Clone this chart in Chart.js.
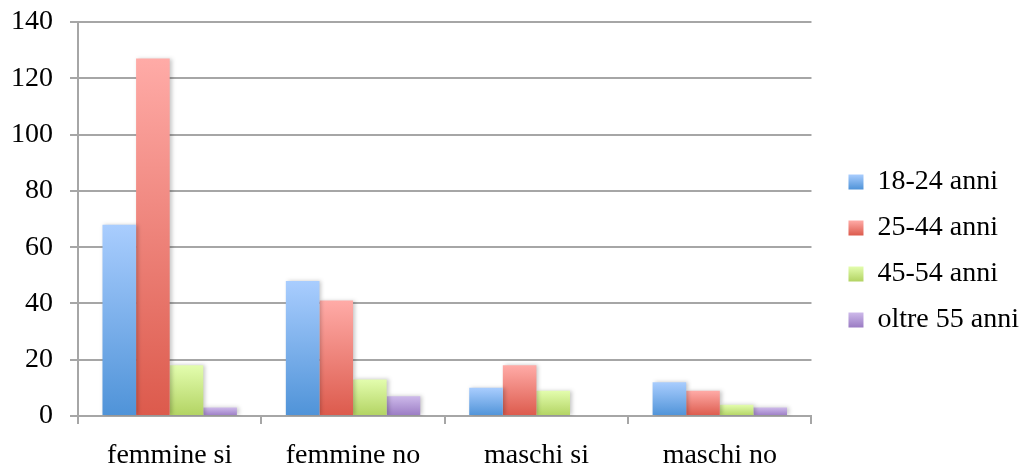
<!DOCTYPE html>
<html>
<head>
<meta charset="utf-8">
<script src="https://cdn.jsdelivr.net/npm/chart.js@4.4.1/dist/chart.umd.min.js"></script>
<style>
html,body{margin:0;padding:0;background:#fff;}
#wrap{width:1022px;height:470px;position:relative;}
</style>
</head>
<body>
<div id="wrap"><canvas id="c" width="1022" height="470"></canvas></div>
<script>
const categories = ['femmine si', 'femmine no', 'maschi si', 'maschi no'];
const seriesNames = ['18-24 anni', '25-44 anni', '45-54 anni', 'oltre 55 anni'];
const s1824 = [68, 48, 10, 12];
const s2544 = [127, 41, 18, 9];
const s4554 = [18, 13, 9, 4];
const s55 = [3, 7, 0, 3];
const yTicks = [0, 20, 40, 60, 80, 100, 120, 140];

const palette = [
  {top:'#a9cdfe', bot:'#4f93d8', mid:'#7aaeea'},
  {top:'#ffaba7', bot:'#dc5a4c', mid:'#ee8078'},
  {top:'#e3fdae', bot:'#b2d362', mid:'#cbe888'},
  {top:'#cdb9ea', bot:'#9a7bc3', mid:'#b39bd7'}
];

function grad(i){
  return function(ctx){
    const p = palette[i];
    if (ctx.type !== 'data') return p.mid;
    const chart = ctx.chart;
    if (!chart.chartArea) return p.mid;
    const y = chart.scales.y;
    const t = y.getPixelForValue(ctx.raw);
    const b = y.getPixelForValue(0);
    if (!(b - t > 0.5)) return p.mid;
    const g = chart.ctx.createLinearGradient(0, t, 0, b);
    g.addColorStop(0, p.top);
    g.addColorStop(1, p.bot);
    return g;
  };
}

const allData = [s1824, s2544, s4554, s55];
const FONT = {family:'"Liberation Serif", serif', size:28, lineHeight:1};

const shadowPlugin = {
  id:'shadow',
  beforeDatasetsDraw(chart){
    const c = chart.ctx; c.save();
    c.shadowColor = 'rgba(0,0,0,0.22)'; c.shadowBlur = 4; c.shadowOffsetX = 2; c.shadowOffsetY = 0;
  },
  afterDatasetsDraw(chart){ chart.ctx.restore(); }
};

const legendShift = {
  id:'legendShift',
  afterLayout(chart){
    const lg = chart.legend;
    if (!lg) return;
    lg.left += 19; lg.right += 19;
    lg.top -= 4; lg.bottom -= 4;
  },
  beforeDraw(chart){
    const lg = chart.legend;
    if (!lg) return;
    const lab = lg.options.labels;
    const pad = lab.padding, fs = lab.font.size, bh = lab.boxHeight;
    const colH = lg.columnSizes && lg.columnSizes[0] ? lg.columnSizes[0].height : 0;
    let y = ((lg.top + pad) + (lg.bottom - colH)) / 2;
    (lg.legendItems || []).forEach((it, i) => {
      const top = y + Math.max((fs - bh) / 2, 0);
      const g = chart.ctx.createLinearGradient(0, top, 0, top + bh);
      g.addColorStop(0, palette[i].top);
      g.addColorStop(1, palette[i].bot);
      it.fillStyle = g;
      it.strokeStyle = 'rgba(0,0,0,0)';
      y += fs + pad;
    });
  }
};

new Chart(document.getElementById('c'), {
  type:'bar',
  data:{
    labels:categories,
    datasets: seriesNames.map((n,i)=>({
      label:n,
      data:allData[i],
      backgroundColor:grad(i),
      borderWidth:0,
      barPercentage:1,
      categoryPercentage:0.733
    }))
  },
  options:{
    responsive:false,
    animation:false,
    devicePixelRatio:1,
    layout:{padding:{left:-6, top:22, right:12, bottom:-18}},
    scales:{
      x:{
        grid:{display:true, drawOnChartArea:false, drawTicks:true, tickLength:8, color:'#a6a6a6', lineWidth:2, offset:true},
        border:{display:true, color:'#a6a6a6', width:2},
        ticks:{color:'#000', font:FONT, padding:18, maxRotation:0}
      },
      y:{
        min:0, max:140,
        afterBuildTicks(axis){ axis.ticks = yTicks.map(v=>({value:v})); },
        afterFit(axis){ axis.paddingTop = 0; },
        grid:{color:'#a6a6a6', lineWidth:2, tickLength:8, drawTicks:true},
        border:{display:true, color:'#a6a6a6', width:2},
        ticks:{color:'#000', font:FONT, padding:17}
      }
    },
    plugins:{
      legend:{
        position:'right',
        align:'center',
        labels:{
          color:'#000', font:FONT, boxWidth:15, boxHeight:15, padding:18,
          generateLabels(chart){
            return chart.data.datasets.map((d,i)=>({
              text:d.label, fillStyle:palette[i].mid, strokeStyle:'rgba(0,0,0,0)', lineWidth:0, hidden:false, datasetIndex:i
            }));
          }
        }
      },
      tooltip:{enabled:false}
    }
  },
  plugins:[shadowPlugin, legendShift]
});
</script>
</body>
</html>
